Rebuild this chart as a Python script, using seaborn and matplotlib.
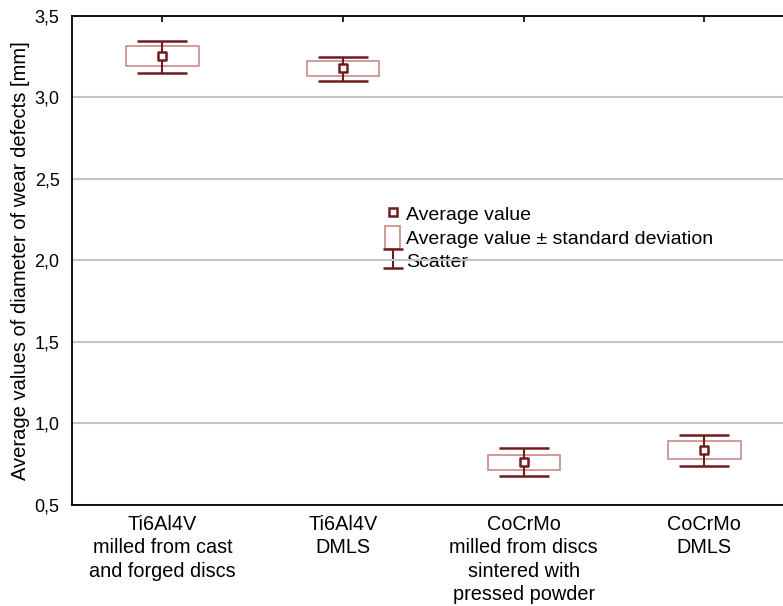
import numpy as np
import pandas as pd
import seaborn as sns
import matplotlib.pyplot as plt
from matplotlib.patches import Patch
from matplotlib.lines import Line2D

# values
groups = ['Ti6Al4V\nmilled from cast\nand forged discs',
          'Ti6Al4V\nDMLS',
          'CoCrMo\nmilled from discs\nsintered with\npressed powder',
          'CoCrMo\nDMLS']
mean = [3.255, 3.178, 0.761, 0.836]
sd = [0.061, 0.045, 0.047, 0.054]
low = [3.151, 3.100, 0.678, 0.739]
high = [3.347, 3.247, 0.851, 0.927]
yticks = [0.5, 1.0, 1.5, 2.0, 2.5, 3.0, 3.5]
ytick_labels = ['0,5', '1,0', '1,5', '2,0', '2,5', '3,0', '3,5']

df = pd.DataFrame({'group': groups, 'mean': mean, 'sd': sd, 'low': low, 'high': high})
df['pos'] = np.arange(len(df))

sns.set_style('white')
plt.rcParams['font.family'] = ['Liberation Sans', 'DejaVu Sans']
plt.rcParams['text.color'] = 'black'
plt.rcParams['axes.labelcolor'] = 'black'
plt.rcParams['xtick.labelcolor'] = 'black'
plt.rcParams['ytick.labelcolor'] = 'black'

dark = '#6e1c1c'
pink = '#c98a8a'

fig = plt.figure(figsize=(7.83, 6.06), dpi=100)
ax = fig.add_axes([0.092, 0.1667, 0.923, 0.807])

# mean +/- sd boxes
ax.bar(df['pos'], 2 * df['sd'], bottom=df['mean'] - df['sd'], width=0.4,
       fill=False, edgecolor=pink, linewidth=1.2, zorder=3)

# min-max whiskers
ax.errorbar(df['pos'], df['mean'], yerr=[df['mean'] - df['low'], df['high'] - df['mean']],
            fmt='none', ecolor=dark, elinewidth=1.5, capsize=18, capthick=1.8, zorder=4)

# mean markers
sns.scatterplot(data=df, x='pos', y='mean', marker='s', s=28, color='white',
                edgecolor=dark, linewidth=1.8, zorder=5, ax=ax)

ax.set_xlim(-0.5, 3.5)
ax.set_ylim(0.5, 3.5)
ax.set_xticks(df['pos'])
ax.set_xticklabels(groups, fontsize=14.3, linespacing=1.3)
ax.set_yticks(yticks)
ax.set_yticklabels(ytick_labels, fontsize=13)
ax.set_xlabel('')
ax.set_ylabel('Average values of diameter of wear defects [mm]', fontsize=14.5, labelpad=3)

ax.grid(axis='y', color='#c4c4c4', linewidth=1.5)
ax.set_axisbelow('line')
ax.tick_params(axis='x', direction='in', length=4, width=1.2, top=True, pad=7, color='black')
ax.tick_params(axis='y', direction='in', length=4, width=1, color='#777777', pad=9)
for side in ['left', 'bottom', 'top']:
    ax.spines[side].set_color('black')
    ax.spines[side].set_linewidth(1.3)
ax.spines['right'].set_visible(False)

# legend
h_mean = Line2D([], [], linestyle='none', marker='s', markersize=5.5,
                markerfacecolor='white', markeredgecolor=dark, markeredgewidth=1.8)
h_sd = Patch(facecolor='white', edgecolor=pink, linewidth=1.2)
h_sc = ax.errorbar([np.nan], [np.nan], yerr=[[1], [1]], fmt='none', ecolor=dark,
                   elinewidth=1.5, capsize=7, capthick=1.8)
leg = ax.legend([h_mean, h_sd, h_sc],
                ['Average value', 'Average value \u00b1 standard deviation', 'Scatter'],
                loc='upper left', bbox_to_anchor=(0.42, 0.638), frameon=False,
                fontsize=14, handlelength=0.75, handleheight=1.4, handletextpad=0.3,
                labelspacing=0.05, borderpad=0)
leg.set_zorder(1)

fig.savefig('out.png', dpi=100)
